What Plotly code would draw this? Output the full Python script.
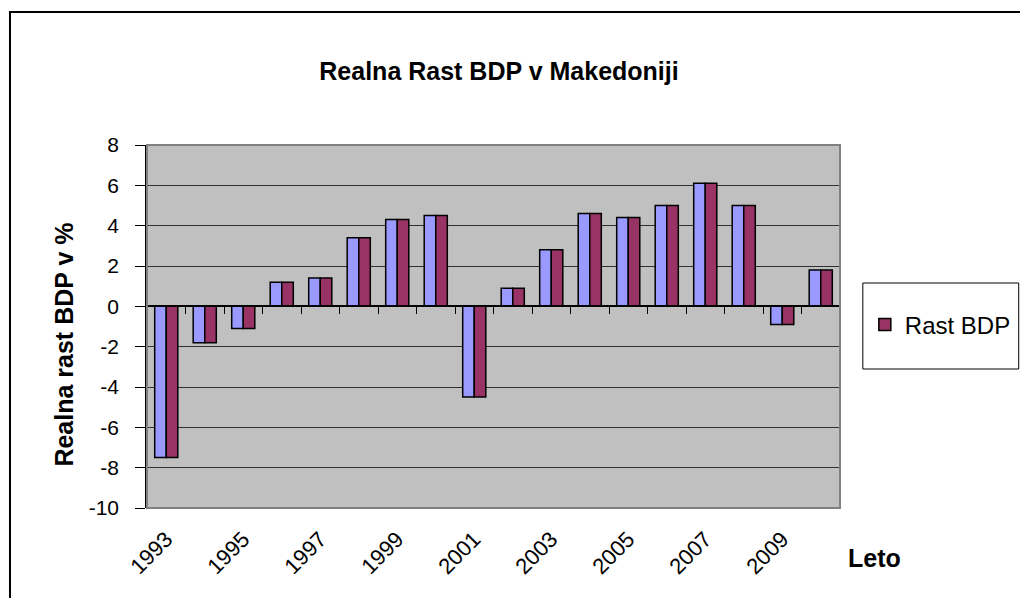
import plotly.graph_objects as go

# dati (crescita reale del PIL, %)
years = [str(y) for y in range(1993, 2011)]
rast_bdp = [-7.5, -1.8, -1.1, 1.2, 1.4, 3.4, 4.3, 4.5, -4.5,
            0.9, 2.8, 4.6, 4.4, 5.0, 6.1, 5.0, -0.9, 1.8]
tick_years = years[::2]
y_ticks = list(range(-10, 9, 2))
y_ticktext = [str(v) for v in y_ticks]

FONT = "Liberation Sans, Arial, sans-serif"

# ---------------------------------------------------------------------------
# geometria in pixel (coordinate dello screenshot; la pagina ha 8px di margine)
# ---------------------------------------------------------------------------
W, H = 1028, 598
OFF = 8
FW, FH = W - OFF, H - OFF
L, R, T, B = 147, 845, 145, 508


def px(x):
    return (x - L) / (R - L)


def py(y):
    return (B - y) / (B - T)


fig = go.Figure()

# faccia chiara (solo ombra, non in legenda)
fig.add_trace(go.Bar(
    x=years, y=rast_bdp, name="Rast BDP (face)", showlegend=False,
    marker=dict(color="#9999FF", line=dict(color="black", width=1.5)),
    offset=-0.3, width=0.3, hoverinfo="skip",
))
# serie principale
fig.add_trace(go.Bar(
    x=years, y=rast_bdp, name="Rast BDP", xaxis="x2",
    marker=dict(color="#993366", line=dict(color="black", width=1.5)),
    offset=0.0, width=0.3,
))

fig.update_layout(
    width=FW, height=FH,
    margin=dict(l=L - OFF, r=W - R, t=T - OFF, b=H - B),
    paper_bgcolor="white",
    plot_bgcolor="#C0C0C0",
    font=dict(family=FONT, color="black"),
    title=dict(
        text="<b>Realna Rast BDP v Makedoniji</b>",
        x=(499 - OFF) / FW, xanchor="center",
        y=1 - (71 - OFF) / FH, yanchor="middle",
        font=dict(size=25, family=FONT, color="black"),
    ),
    xaxis=dict(
        type="category", categoryorder="array", categoryarray=years,
        range=[-0.5, len(years) - 0.5],
        tickmode="array", tickvals=tick_years, ticktext=tick_years,
        tickangle=-45, ticks="", showgrid=False, showline=False,
        zeroline=False, tickfont=dict(size=22, family=FONT),
        ticklabelstandoff=13,
    ),
    xaxis2=dict(
        type="category", categoryorder="array", categoryarray=years,
        range=[-0.5, len(years) - 0.5],
        overlaying="x", anchor="free", position=py(306),
        showticklabels=False, ticks="outside", tickson="boundaries",
        ticklen=7, tickwidth=1, tickcolor="black",
        showline=True, linecolor="black", linewidth=1.5,
        showgrid=False, zeroline=False,
    ),
    yaxis=dict(
        range=[-10, 8], tickmode="array", tickvals=y_ticks,
        ticktext=y_ticktext, ticks="outside", ticklen=10,
        tickcolor="black", showline=True, linecolor="black", linewidth=1.5,
        showgrid=True, gridcolor="#303030", gridwidth=1,
        zeroline=False, tickfont=dict(size=21, family=FONT),
        ticklabelstandoff=12,
    ),
    bargap=0.4,
    showlegend=True,
    legend=dict(
        x=px(870), y=py(325), xanchor="left", yanchor="middle",
        bgcolor="rgba(0,0,0,0)", borderwidth=0,
        font=dict(size=24, family=FONT),
    ),
    shapes=[
        # cornice esterna del grafico
        dict(type="rect", xref="paper", yref="paper",
             x0=px(9), x1=px(1040), y0=py(610), y1=py(12),
             line=dict(color="black", width=2), fillcolor="rgba(0,0,0,0)"),
        # bordo grigio dell'area del grafico
        dict(type="rect", xref="paper", yref="paper",
             x0=0, x1=1, y0=0, y1=1,
             line=dict(color="#808080", width=2), fillcolor="rgba(0,0,0,0)"),
        # riquadro della legenda
        dict(type="rect", xref="paper", yref="paper",
             x0=px(868), x1=px(1025), y0=py(369), y1=py(283),
             line=dict(color="black", width=1), fillcolor="white",
             layer="below"),
    ],
    annotations=[
        dict(text="<b>Realna rast BDP v %</b>", xref="paper", yref="paper",
             x=px(63), y=py(345), xanchor="center", yanchor="middle",
             textangle=-90, showarrow=False,
             font=dict(size=25, family=FONT, color="black")),
        dict(text="<b>Leto</b>", xref="paper", yref="paper",
             x=px(880), y=py(558), xanchor="center", yanchor="middle",
             showarrow=False, font=dict(size=25, family=FONT, color="black")),
    ],
)

fig.write_html("out.html")
